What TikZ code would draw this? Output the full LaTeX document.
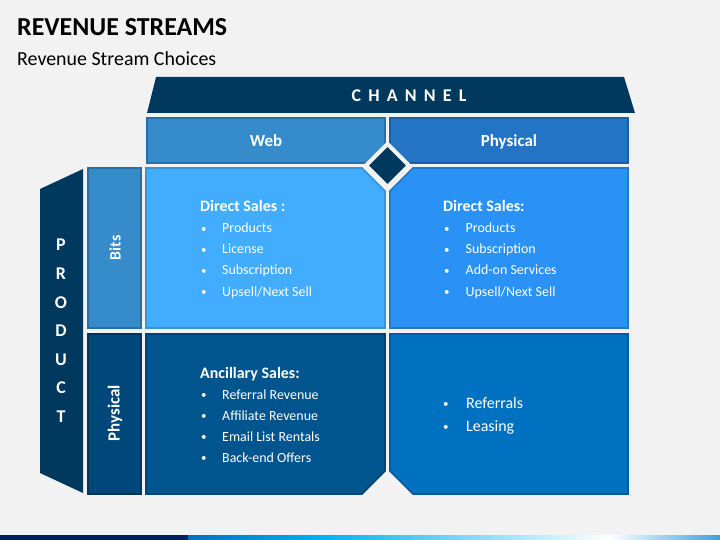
\documentclass[tikz,border=0pt]{standalone}
\usepackage{fontspec}
\setmainfont{Carlito}
\definecolor{bg}{RGB}{242,242,242}
\definecolor{navy}{RGB}{0,56,94}
\definecolor{tlfill}{RGB}{66,172,255}
\definecolor{tlline}{RGB}{56,148,214}
\definecolor{trfill}{RGB}{43,146,245}
\definecolor{trline}{RGB}{35,118,200}
\definecolor{blfill}{RGB}{0,85,142}
\definecolor{blline}{RGB}{0,68,118}
\definecolor{brfill}{RGB}{0,112,192}
\definecolor{brline}{RGB}{0,90,160}
\definecolor{webfill}{RGB}{54,139,203}
\definecolor{webline}{RGB}{40,110,170}
\definecolor{phfill}{RGB}{35,116,197}
\definecolor{phline}{RGB}{28,94,165}
\definecolor{psfill}{RGB}{0,71,122}
\definecolor{psline}{RGB}{0,52,92}
\definecolor{barnavy}{RGB}{0,32,96}
\definecolor{barblue}{RGB}{0,112,192}
\definecolor{barcyan}{RGB}{0,176,240}
\definecolor{barend}{RGB}{60,160,220}
\newcommand{\blt}[1]{\makebox[#1][l]{\raisebox{0.6bp}{\fontsize{11}{12}\selectfont •}}}
\begin{document}
\begin{tikzpicture}[x=1bp,y=-1bp,
  cellline/.style={line width=1.6bp},
  hdtxt/.style={text=white, inner sep=0pt, anchor=base, font=\bfseries\fontsize{17}{19}\selectfont},
  celltitle/.style={text=white, inner sep=0pt, anchor=base west, font=\bfseries\fontsize{16}{18}\selectfont},
  item/.style={text=white, inner sep=0pt, anchor=base west, font=\fontsize{14}{16}\selectfont},
  bigitem/.style={text=white, inner sep=0pt, anchor=base west, font=\fontsize{16}{18}\selectfont},
  vletter/.style={text=white, inner sep=0pt, anchor=base, font=\bfseries\fontsize{18}{20}\selectfont}]
\fill[bg] (0,0) rectangle (720,540);
\useasboundingbox (0,0) rectangle (720,540);

% title
\node[anchor=base west, inner sep=0pt, font=\bfseries\fontsize{26}{30}\selectfont] (title) at (17,36) {REVENUE STREAMS};
\node[anchor=base west, inner sep=0pt, font=\fontsize{20}{24}\selectfont] (subtitle) at (17,66) {Revenue Stream Choices};

% channel banner
\fill[navy] (156,77) -- (624,77) -- (635,113) -- (147,113) -- cycle;
\node[text=white, inner sep=0pt, anchor=base, font=\bfseries\fontsize{18}{20}\selectfont\addfontfeature{LetterSpace=40}] (channel) at (409,102) {CHANNEL};

% headers
\filldraw[fill=webfill, draw=webline, cellline] (147,118) rectangle (385,163);
\filldraw[fill=phfill, draw=phline, cellline] (390,118) rectangle (628,163);
\node[hdtxt] (web) at (266,147) {Web};
\node[hdtxt] (physhead) at (509,147) {Physical};

% product bar
\fill[navy] (40,189) -- (83,169) -- (83,493) -- (40,473) -- cycle;
\foreach \l [count=\i] in {P,R,O,D,U,C,T}
  \node[vletter] (prod\i) at (61,{251+28.5*(\i-1)}) {\l};

% side boxes
\filldraw[fill=webfill, draw=webline, cellline] (88,168) rectangle (141,328);
\filldraw[fill=psfill, draw=psline, cellline] (88,334) rectangle (141,494);
\node[text=white, inner sep=0pt, rotate=90, font=\bfseries\fontsize{16}{18}\selectfont] (bits) at (115,248) {Bits};
\node[text=white, inner sep=0pt, rotate=90, font=\bfseries\fontsize{17}{19}\selectfont] (physside) at (115,413) {Physical};

% cells
\filldraw[fill=tlfill, draw=tlline, cellline] (146,168) -- (362,168) -- (385,191) -- (385,328) -- (146,328) -- cycle;
\filldraw[fill=trfill, draw=trline, cellline] (413,168) -- (628,168) -- (628,328) -- (390,328) -- (390,191) -- cycle;
\filldraw[fill=blfill, draw=blline, cellline] (146,334) -- (385,334) -- (385,471) -- (362,494) -- (146,494) -- cycle;
\filldraw[fill=brfill, draw=brline, cellline] (390,334) -- (628,334) -- (628,494) -- (413,494) -- (390,471) -- cycle;

% diamond
\filldraw[fill=navy, draw=bg, line width=4bp] (387.5,144) -- (409,165.5) -- (387.5,187) -- (366,165.5) -- cycle;

% top-left text
\node[celltitle] (tlh) at (200,212) {Direct Sales :};
\foreach \t [count=\i] in {Products,License,Subscription,Upsell/Next Sell}
  \node[item] (tl\i) at (201,{212+21*\i}) {\blt{21bp}\t};

% top-right text
\node[celltitle] (trh) at (443,212) {Direct Sales:};
\foreach \t [count=\i] in {Products,Subscription,Add-on Services,Upsell/Next Sell}
  \node[item] (tr\i) at (444,{212+21*\i}) {\blt{21.5bp}\t};

% bottom-left text
\node[celltitle] (blh) at (200,378) {Ancillary Sales:};
\foreach \t [count=\i] in {Referral Revenue,Affiliate Revenue,Email List Rentals,Back-end Offers}
  \node[item] (bl\i) at (201,{378+21*\i}) {\blt{21bp}\t};

% bottom-right text
\node[bigitem] (br1) at (443,408) {\blt{23bp}Referrals};
\node[bigitem] (br2) at (443,431) {\blt{23bp}Leasing};

% bottom bar
\fill[barnavy] (0,535) rectangle (188,540);
\shade[left color=barblue, right color=barcyan] (188,535) rectangle (320,540);
\shade[left color=barcyan, right color=white] (320,535) rectangle (610,540);
\shade[left color=white, right color=barend] (610,535) rectangle (720,540);
\end{tikzpicture}
\end{document}
